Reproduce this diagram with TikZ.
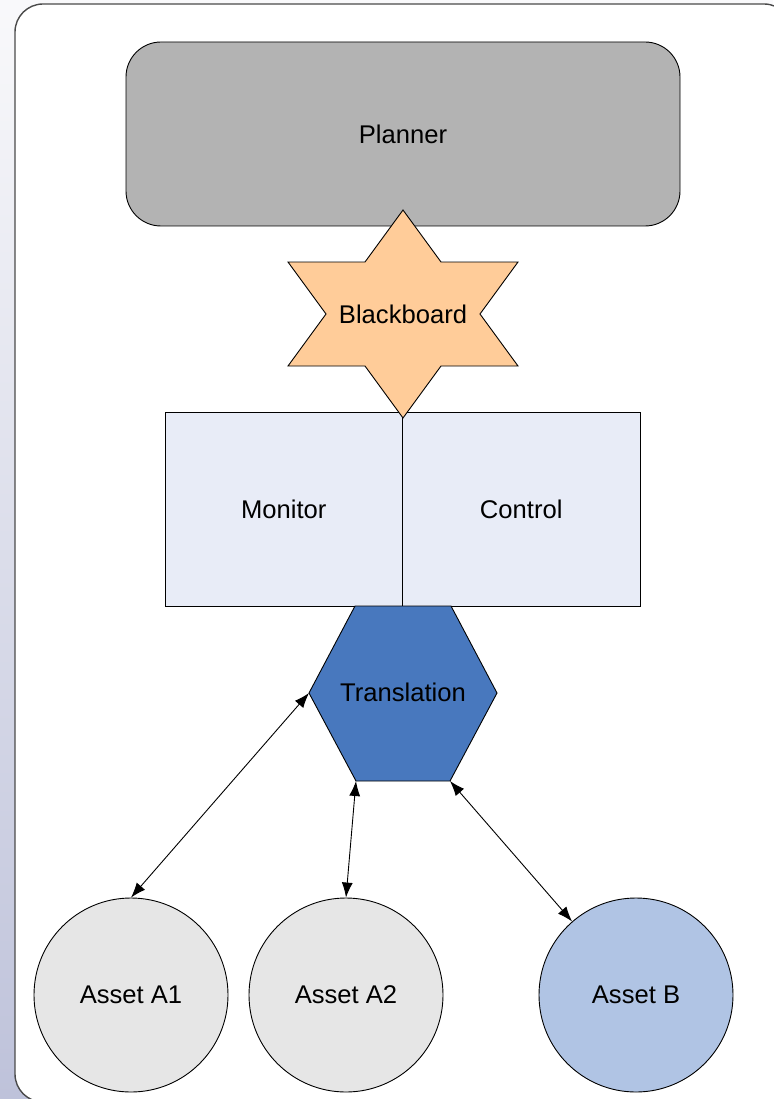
\documentclass[tikz,border=0pt]{standalone}
\usepackage{fontspec}
\setmainfont{Liberation Sans}
\usetikzlibrary{arrows.meta}
\definecolor{bgtop}{HTML}{F9F9FB}
\definecolor{bgbot}{HTML}{BEC2DA}
\definecolor{plannerfill}{HTML}{B3B3B3}
\definecolor{starfill}{HTML}{FFCC99}
\definecolor{mcfill}{HTML}{E8ECF7}
\definecolor{hexfill}{HTML}{4878BE}
\definecolor{assetfill}{HTML}{E6E6E6}
\definecolor{assetbfill}{HTML}{B0C4E4}
\definecolor{frameline}{HTML}{4A4A4A}
\tikzset{
  lbl/.style={font=\fontsize{25.6}{30}\selectfont, text=black},
  shapeline/.style={draw=black, line width=0.9pt},
  mcbox/.style={shapeline, fill=mcfill, minimum width=237.5pt, minimum height=194pt, inner sep=0pt, lbl},
  asset/.style={shapeline, circle, minimum size=194pt, inner sep=0pt, lbl},
  link/.style={draw=black, line width=0.9pt, {Latex[length=15pt,width=11pt]}-{Latex[length=15pt,width=11pt]}}
}
\begin{document}
\begin{tikzpicture}[x=1pt,y=-1pt]
\useasboundingbox (0,0) rectangle (773,1099);
% background
\shade[top color=bgtop, bottom color=bgbot] (0,0) rectangle (773,1099);
\draw[frameline, fill=white, line width=1.4pt, rounded corners=28pt] (15,4) rectangle (792,1102);
% Planner
\node[shapeline, fill=plannerfill, rounded corners=35pt, minimum width=554pt, minimum height=184pt, inner sep=0pt, lbl] (planner) at (403,134) {Planner};
% Monitor / Control
\node[mcbox] (monitor) at (283.75,509) {Monitor};
\node[mcbox] (control) at (521.25,509) {Control};
% Blackboard star
\draw[shapeline, fill=starfill]
  (403,210) -- (441,262) -- (518,262) -- (480,314) -- (518,366) -- (441,366)
  -- (403,418) -- (365,366) -- (288,366) -- (326,314) -- (288,262) -- (365,262) -- cycle;
\node[lbl] (blackboard) at (403,314) {Blackboard};
% Translation hexagon
\coordinate (htl) at (355,606);
\coordinate (htr) at (451,606);
\coordinate (hr) at (497,693);
\coordinate (hbr) at (450,781);
\coordinate (hbl) at (356,781);
\coordinate (hl) at (309,693);
\draw[shapeline, fill=hexfill] (htl) -- (htr) -- (hr) -- (hbr) -- (hbl) -- (hl) -- cycle;
\node[lbl] (translation) at (403,692) {Translation};
% Assets
\node[asset, fill=assetfill] (a1) at (131,995) {Asset A1};
\node[asset, fill=assetfill] (a2) at (346,995) {Asset A2};
\node[asset, fill=assetbfill] (b) at (636,995) {Asset B};
% connectors
\draw[link] (hl) -- (a1.north);
\draw[link] (hbl) -- (a2.north);
\draw[link] (hbr) -- (b);
\end{tikzpicture}
\end{document}
